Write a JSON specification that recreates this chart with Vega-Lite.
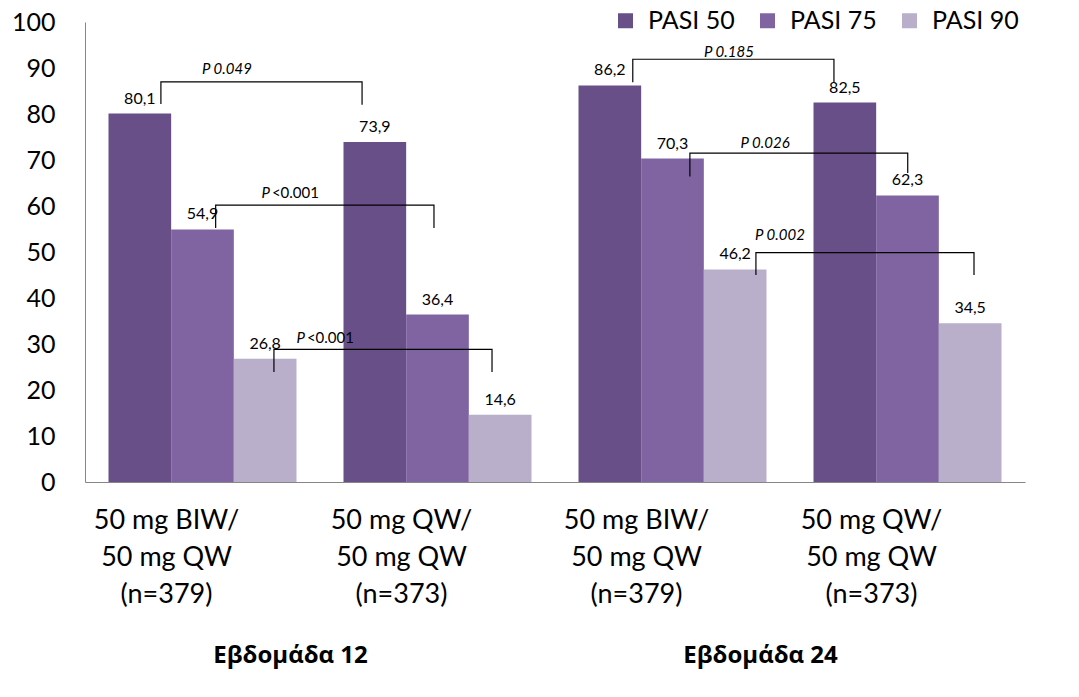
{
  "$schema": "https://vega.github.io/schema/vega-lite/v6.json",
  "width": 940,
  "height": 460,
  "autosize": {"type": "none"},
  "padding": {"left": 85, "top": 22, "right": 54, "bottom": 215},
  "config": {
    "view": {"stroke": null},
    "font": "Lato",
    "locale": {"number": {"decimal": ",", "thousands": ".", "grouping": [3], "currency": ["", " €"]}}
  },
  "datasets": {
    "bars": [
      {"group": "Εβδομάδα 12|50 mg BIW/|50 mg QW|(n=379)", "series": "PASI 50", "value": 80.1},
      {"group": "Εβδομάδα 12|50 mg BIW/|50 mg QW|(n=379)", "series": "PASI 75", "value": 54.9},
      {"group": "Εβδομάδα 12|50 mg BIW/|50 mg QW|(n=379)", "series": "PASI 90", "value": 26.8},
      {"group": "Εβδομάδα 12|50 mg QW/|50 mg QW|(n=373)", "series": "PASI 50", "value": 73.9},
      {"group": "Εβδομάδα 12|50 mg QW/|50 mg QW|(n=373)", "series": "PASI 75", "value": 36.4},
      {"group": "Εβδομάδα 12|50 mg QW/|50 mg QW|(n=373)", "series": "PASI 90", "value": 14.6},
      {"group": "Εβδομάδα 24|50 mg BIW/|50 mg QW|(n=379)", "series": "PASI 50", "value": 86.2},
      {"group": "Εβδομάδα 24|50 mg BIW/|50 mg QW|(n=379)", "series": "PASI 75", "value": 70.3},
      {"group": "Εβδομάδα 24|50 mg BIW/|50 mg QW|(n=379)", "series": "PASI 90", "value": 46.2},
      {"group": "Εβδομάδα 24|50 mg QW/|50 mg QW|(n=373)", "series": "PASI 50", "value": 82.5},
      {"group": "Εβδομάδα 24|50 mg QW/|50 mg QW|(n=373)", "series": "PASI 75", "value": 62.3},
      {"group": "Εβδομάδα 24|50 mg QW/|50 mg QW|(n=373)", "series": "PASI 90", "value": 34.5}
    ],
    "brackets": [
      {"b": 1, "o": 1, "u": 0.323, "v": 82.2},
      {"b": 1, "o": 2, "u": 0.323, "v": 87.0},
      {"b": 1, "o": 3, "u": 1.179, "v": 87.0},
      {"b": 1, "o": 4, "u": 1.179, "v": 82.0},
      {"b": 2, "o": 1, "u": 0.556, "v": 55.2},
      {"b": 2, "o": 2, "u": 0.556, "v": 60.2},
      {"b": 2, "o": 3, "u": 1.485, "v": 60.2},
      {"b": 2, "o": 4, "u": 1.485, "v": 55.2},
      {"b": 3, "o": 1, "u": 0.804, "v": 23.9},
      {"b": 3, "o": 2, "u": 0.804, "v": 28.85},
      {"b": 3, "o": 3, "u": 1.732, "v": 28.85},
      {"b": 3, "o": 4, "u": 1.732, "v": 23.9},
      {"b": 4, "o": 1, "u": 2.331, "v": 86.9},
      {"b": 4, "o": 2, "u": 2.331, "v": 91.9},
      {"b": 4, "o": 3, "u": 3.187, "v": 91.9},
      {"b": 4, "o": 4, "u": 3.187, "v": 86.9},
      {"b": 5, "o": 1, "u": 2.574, "v": 66.4},
      {"b": 5, "o": 2, "u": 2.574, "v": 71.5},
      {"b": 5, "o": 3, "u": 3.501, "v": 71.5},
      {"b": 5, "o": 4, "u": 3.501, "v": 67.2},
      {"b": 6, "o": 1, "u": 2.855, "v": 45.0},
      {"b": 6, "o": 2, "u": 2.855, "v": 49.85},
      {"b": 6, "o": 3, "u": 3.783, "v": 49.85},
      {"b": 6, "o": 4, "u": 3.783, "v": 45.0}
    ],
    "plabels": [
      {"label": "P 0.049", "kind": "italic", "u": 0.604, "v": 89.8},
      {"label": "P", "kind": "pre", "u": 0.791, "v": 62.8},
      {"label": "<0.001", "kind": "post", "u": 0.791, "v": 62.8},
      {"label": "P", "kind": "pre", "u": 0.940, "v": 31.2},
      {"label": "<0.001", "kind": "post", "u": 0.940, "v": 31.2},
      {"label": "P 0.185", "kind": "italic", "u": 2.740, "v": 93.5},
      {"label": "P 0.026", "kind": "italic", "u": 2.894, "v": 73.8},
      {"label": "P 0.002", "kind": "italic", "u": 2.957, "v": 53.7}
    ],
    "weeks": [
      {"week": "Εβδομάδα 12"},
      {"week": "Εβδομάδα 24"}
    ]
  },
  "layer": [
    {
      "data": {"name": "bars"},
      "layer": [
        {
          "mark": {"type": "bar"},
          "encoding": {
            "x": {
              "field": "group", "type": "nominal", "sort": null,
              "scale": {"paddingInner": 0.2, "paddingOuter": 0.1},
              "axis": {
                "title": null, "ticks": false, "labelAngle": 0,
                "domainColor": "#868686", "domainWidth": 1,
                "labelFontSize": 27, "labelLineHeight": 37, "labelColor": "#000",
                "labelPadding": 25, "labelOffset": -36, "labelOverlap": false,
                "labelExpr": "slice(split(datum.label, '|'), 1)"
              }
            },
            "xOffset": {"field": "series", "type": "nominal", "scale": {"paddingInner": 0, "paddingOuter": 0}},
            "y": {
              "field": "value", "type": "quantitative",
              "scale": {"domain": [0, 100], "nice": false},
              "axis": {
                "title": null, "ticks": false, "grid": false,
                "values": [0, 10, 20, 30, 40, 50, 60, 70, 80, 90, 100],
                "domainColor": "#868686", "domainWidth": 1,
                "labelFontSize": 25, "labelColor": "#000", "labelPadding": 30
              }
            },
            "color": {
              "field": "series", "type": "nominal",
              "scale": {"domain": ["PASI 50", "PASI 75", "PASI 90"], "range": ["#684f87", "#8064a2", "#b9afcb"]},
              "legend": {
                "title": null, "orient": "none", "direction": "horizontal",
                "legendX": 528, "legendY": -14, "padding": 0,
                "symbolType": "square", "symbolSize": 225, "symbolStrokeWidth": 0,
                "labelFontSize": 25, "labelColor": "#000", "labelOffset": 10, "columnPadding": 20
              }
            }
          }
        },
        {
          "mark": {"type": "text", "baseline": "middle", "dy": -15, "fontSize": 16, "color": "#000"},
          "encoding": {
            "x": {"field": "group", "type": "nominal", "sort": null},
            "xOffset": {"field": "series", "type": "nominal"},
            "y": {"field": "value", "type": "quantitative", "title": null},
            "text": {"field": "value", "type": "quantitative", "format": ".1f"}
          }
        }
      ]
    },
    {
      "data": {"name": "brackets"},
      "mark": {"type": "line", "color": "#000", "strokeWidth": 1.2},
      "encoding": {
        "x": {"field": "u", "type": "quantitative", "scale": {"domain": [0, 4], "nice": false, "zero": false}, "axis": null},
        "y": {"field": "v", "type": "quantitative", "title": null},
        "detail": {"field": "b", "type": "nominal"},
        "order": {"field": "o", "type": "quantitative"}
      }
    },
    {
      "data": {"name": "plabels"},
      "transform": [{"filter": "datum.kind == 'italic'"}],
      "mark": {"type": "text", "fontStyle": "italic", "fontSize": 15, "color": "#000", "align": "center", "baseline": "middle"},
      "encoding": {
        "x": {"field": "u", "type": "quantitative", "scale": {"domain": [0, 4], "nice": false, "zero": false}, "axis": null},
        "y": {"field": "v", "type": "quantitative", "title": null},
        "text": {"field": "label"}
      }
    },
    {
      "data": {"name": "plabels"},
      "transform": [{"filter": "datum.kind == 'pre'"}],
      "mark": {"type": "text", "fontStyle": "italic", "fontSize": 15, "color": "#000", "align": "right", "dx": -1, "baseline": "middle"},
      "encoding": {
        "x": {"field": "u", "type": "quantitative", "scale": {"domain": [0, 4], "nice": false, "zero": false}, "axis": null},
        "y": {"field": "v", "type": "quantitative", "title": null},
        "text": {"field": "label"}
      }
    },
    {
      "data": {"name": "plabels"},
      "transform": [{"filter": "datum.kind == 'post'"}],
      "mark": {"type": "text", "fontSize": 15, "color": "#000", "align": "left", "dx": 1, "baseline": "middle"},
      "encoding": {
        "x": {"field": "u", "type": "quantitative", "scale": {"domain": [0, 4], "nice": false, "zero": false}, "axis": null},
        "y": {"field": "v", "type": "quantitative", "title": null},
        "text": {"field": "label"}
      }
    },
    {
      "data": {"name": "weeks"},
      "mark": {"type": "point", "opacity": 0},
      "encoding": {
        "x": {
          "field": "week", "type": "nominal", "sort": null,
          "scale": {"paddingInner": 0, "paddingOuter": 0},
          "axis": {
            "title": null, "orient": "bottom", "domain": false, "ticks": false, "labelAngle": 0,
            "labelFont": "Open Sans", "labelFontWeight": "bold", "labelFontSize": 24, "labelColor": "#000",
            "labelPadding": 161, "labelOffset": -30
          }
        }
      }
    }
  ],
  "resolve": {"scale": {"x": "independent"}, "axis": {"x": "independent"}}
}
